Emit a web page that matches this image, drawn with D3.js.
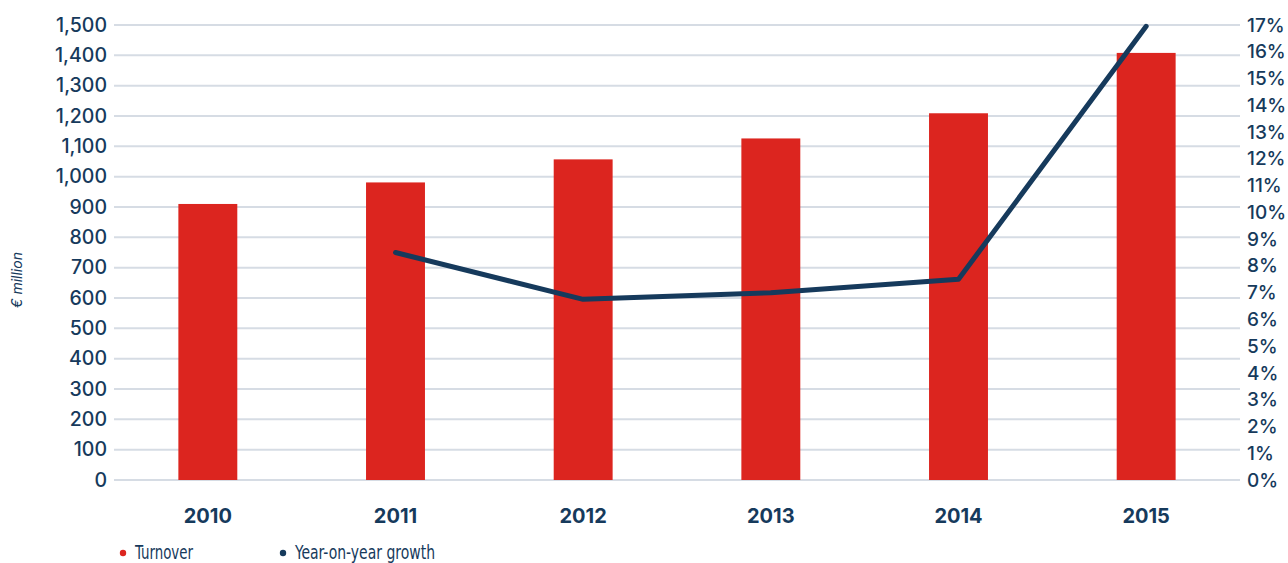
<!DOCTYPE html>
<html>
<head>
<meta charset="utf-8">
<script src="https://cdn.jsdelivr.net/npm/d3@7"></script>
<style>
  body { margin: 0; background: #fff; }
  svg { display: block; }
</style>
</head>
<body>
<div id="chart"></div>
<script>
// Data
const years = ["2010", "2011", "2012", "2013", "2014", "2015"];
const turnover = [910, 981, 1057, 1126, 1209, 1408];          // € million
const growth = [null, 8.5, 6.75, 7.0, 7.5, 16.95];              // %
const leftTicks = d3.range(0, 1501, 100);
const rightTicks = d3.range(0, 18, 1);

const W = 1288, H = 563;
const margin = { top: 25, right: 48, bottom: 83, left: 114 },
      width = W - margin.left - margin.right,
      height = H - margin.top - margin.bottom;

const navy = "#163a5c";
const red = "#dc251f";
const tickFont = "Inter, 'Open Sans', sans-serif";

const svg = d3.select("#chart")
    .append("svg")
    .attr("width", W)
    .attr("height", H)
    .append("g")
    .attr("transform", `translate(${margin.left},${margin.top})`);

// Scales
const x = d3.scaleBand()
    .domain(years)
    .range([0, width])
    .paddingInner(0.686)
    .paddingOuter(0.343);

const y = d3.scaleLinear()
    .domain([0, 1500])
    .range([height, 0]);

const y2 = d3.scaleLinear()
    .domain([0, 17])
    .range([height, 0]);

// Gridlines
svg.append("g")
    .selectAll("line")
    .data(leftTicks)
    .enter()
    .append("line")
    .attr("x1", 0)
    .attr("x2", width)
    .attr("y1", d => y(d))
    .attr("y2", d => y(d))
    .attr("stroke", "#d6dce4")
    .attr("stroke-width", 2);

// Left axis
const leftAxis = svg.append("g")
    .call(d3.axisLeft(y).tickValues(leftTicks).tickSize(0).tickPadding(7).tickFormat(d3.format(",")));
leftAxis.select(".domain").remove();
leftAxis.selectAll("text")
    .attr("fill", navy)
    .style("font-family", tickFont)
    .style("font-weight", 500)
    .style("font-size", "19.5px");

// Right axis
const rightAxis = svg.append("g")
    .attr("transform", `translate(${width}, 0)`)
    .call(d3.axisRight(y2).tickValues(rightTicks).tickSize(0).tickPadding(7).tickFormat(d => d + "%"));
rightAxis.select(".domain").remove();
rightAxis.selectAll("text")
    .attr("fill", navy)
    .style("font-family", tickFont)
    .style("font-weight", 500)
    .style("font-size", "19px");

// Bottom axis (year labels)
const bottomAxis = svg.append("g")
    .attr("transform", `translate(0, ${height})`)
    .call(d3.axisBottom(x).tickSize(0).tickPadding(29));
bottomAxis.select(".domain").remove();
bottomAxis.selectAll("text")
    .attr("fill", navy)
    .style("font-family", tickFont)
    .style("font-weight", 700)
    .style("font-size", "20px");

// Y-axis label
svg.append("text")
    .attr("transform", "rotate(-90)")
    .attr("x", -(280 - margin.top))
    .attr("y", 17 - margin.left + 5)
    .attr("text-anchor", "middle")
    .attr("fill", navy)
    .style("font-family", tickFont)
    .style("font-style", "italic")
    .style("font-size", "14px")
    .text("€ million");

// Bars
svg.selectAll(".bar")
    .data(years)
    .enter()
    .append("rect")
    .attr("class", "bar")
    .attr("x", d => x(d))
    .attr("y", (d, i) => y(turnover[i]))
    .attr("width", x.bandwidth())
    .attr("height", (d, i) => height - y(turnover[i]))
    .attr("fill", red);

// Growth line
const lineData = years.map((d, i) => ({ year: d, value: growth[i] }))
    .filter(d => d.value !== null);

const line = d3.line()
    .x(d => x(d.year) + x.bandwidth() / 2)
    .y(d => y2(d.value));

svg.append("path")
    .datum(lineData)
    .attr("fill", "none")
    .attr("stroke", navy)
    .attr("stroke-width", 5)
    .attr("stroke-linejoin", "round")
    .attr("stroke-linecap", "round")
    .attr("d", line);

// Legend
const legendItems = [
    { label: "Turnover", color: red, x: 123, w: 58 },
    { label: "Year-on-year growth", color: navy, x: 283, w: 140 }
];

const legend = svg.append("g")
    .attr("transform", `translate(${-margin.left}, ${-margin.top})`);

legendItems.forEach(item => {
    legend.append("circle")
        .attr("cx", item.x)
        .attr("cy", 553)
        .attr("r", 3.2)
        .attr("fill", item.color);

    legend.append("text")
        .attr("x", item.x + 12)
        .attr("y", 559)
        .attr("fill", navy)
        .attr("textLength", item.w)
        .attr("lengthAdjust", "spacingAndGlyphs")
        .style("font-family", "'DejaVu Sans Condensed', 'Liberation Sans Narrow', sans-serif")
        .style("font-size", "19.5px")
        .text(item.label);
});
</script>
</body>
</html>
